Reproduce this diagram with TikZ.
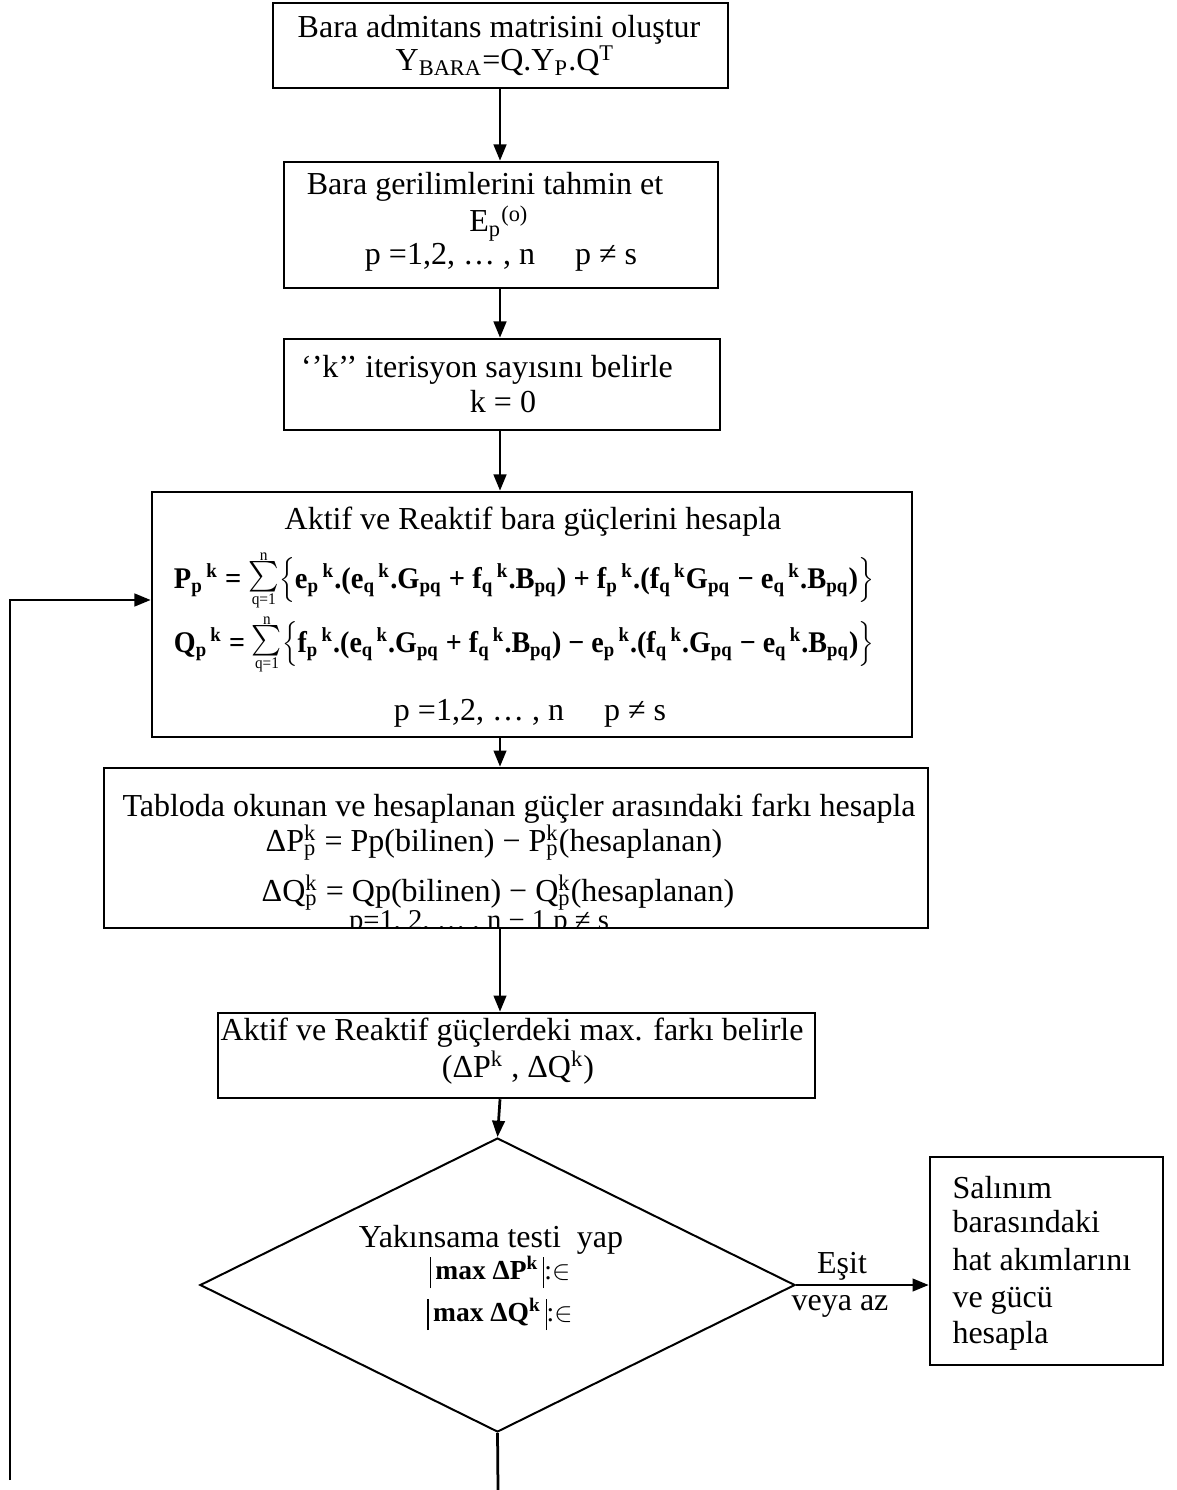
\documentclass[tikz,border=0pt]{standalone}
\usepackage{fontspec}
\setmainfont{Liberation Serif}
\usepackage{graphicx}
\usetikzlibrary{shapes.geometric,arrows.meta}

% X_y with a detached superscript k
\newcommand\ssk[2]{#1\textsubscript{#2}\textsuperscript{\,k}}
% base with stacked subscript and superscript
\newcommand\stk[3]{#1\rlap{\textsuperscript{#3}}\textsubscript{#2}}
% sum over q = 1 .. n, limits stacked tightly
\newcommand\qsum{$\vcenter{\offinterlineskip\halign{\hfil##\hfil\cr
  {\fontsize{6.5}{7}\selectfont\mdseries n}\cr\noalign{\kern0.6pt}
  \scalebox{1.22}{$\sum$}\cr\noalign{\kern0.8pt}
  {\fontsize{6.5}{7}\selectfont\mdseries q=1}\cr}}$}
% tall absolute-value bar
\newcommand\vbar{\raisebox{-3.6pt}{\rule{0.45pt}{12.5pt}}}

\begin{document}
\begin{tikzpicture}[x=0.4pt, y=-0.4pt,
  box/.style={draw, line width=1pt, inner sep=0pt},
  lbl/.style={inner sep=0pt, font=\fontsize{12.8}{15}\selectfont},
  arr/.style={line width=1.1pt, -{Triangle[length=6.5pt,width=5pt]}},
  wire/.style={line width=1.1pt}]
\useasboundingbox (0,0) rectangle (1177,1490);
\coordinate (ax) at (500,0);

% step 1: admittance matrix
\node[box, minimum width=182pt, minimum height=34pt] (b1) at (500.5,45.5) {};
\node[lbl, anchor=base] (b1a) at (499,38) {Bara admitans matrisini oluştur};
\node[lbl, anchor=base] (b1b) at (505,71) {Y\textsubscript{BARA}=Q.Y\textsubscript{P}.Q\textsuperscript{T}};

% step 2: initial bus voltages
\node[box, minimum width=173.6pt, minimum height=50.4pt] (b2) at (501,225) {};
\node[lbl, anchor=base] (b2a) at (485,195) {Bara gerilimlerini tahmin et};
\node[lbl, anchor=base] (b2b) at (499,232) {E\textsubscript{p}\textsuperscript{(o)}};
\node[lbl, anchor=base] (b2c) at (501,265) {p =1,2, … , n \quad p ≠ s};

% step 3: iteration counter
\node[box, minimum width=174.4pt, minimum height=36.4pt] (b3) at (502,384.5) {};
\node[lbl, anchor=base] (b3a) at (487,378) {‘’k’’ iterisyon sayısını belirle};
\node[lbl, anchor=base] (b3b) at (503,413) {k = 0};

% step 4: bus powers
\node[box, minimum width=304pt, minimum height=98pt] (b4) at (532,614.5) {};
\node[lbl, anchor=base] (b4a) at (533,530) {Aktif ve Reaktif bara güçlerini hesapla};
\node[lbl, anchor=base] (b4p) at (524,588) {\resizebox{280pt}{\height}{\fontsize{12}{14}\selectfont\bfseries
  \ssk{P}{p} = \qsum$\Big\{$\ssk{e}{p}.(\ssk{e}{q}.G\textsubscript{pq} + \ssk{f}{q}.B\textsubscript{pq}) + \ssk{f}{p}.(\ssk{f}{q}G\textsubscript{pq} − \ssk{e}{q}.B\textsubscript{pq})$\Big\}$}};
\node[lbl, anchor=base] (b4q) at (524,652) {\resizebox{280pt}{\height}{\fontsize{12}{14}\selectfont\bfseries
  \ssk{Q}{p} = \qsum$\Big\{$\ssk{f}{p}.(\ssk{e}{q}.G\textsubscript{pq} + \ssk{f}{q}.B\textsubscript{pq}) − \ssk{e}{p}.(\ssk{f}{q}.G\textsubscript{pq} − \ssk{e}{q}.B\textsubscript{pq})$\Big\}$}};
\node[lbl, anchor=base] (b4c) at (530,720) {p =1,2, … , n \quad p ≠ s};

% step 5: power mismatches (last line runs under the frame)
\begin{scope}
  \clip (104,768) rectangle (928,928);
  \node[lbl, anchor=base] (b5c) at (479,929) {\resizebox{104pt}{!}{p=1, 2, … , n − 1 p ≠ s}};
\end{scope}
\node[box, minimum width=329.6pt, minimum height=64pt] (b5) at (516,848) {};
\node[lbl, anchor=base] (b5a) at (519,816) {Tabloda okunan ve hesaplanan güçler arasındaki farkı hesapla};
\node[lbl, anchor=base] (b5p) at (494,851) {\stk{ΔP}{p}{k} = Pp(bilinen) − \stk{P}{p}{k}(hesaplanan)};
\node[lbl, anchor=base] (b5q) at (498,901) {\stk{ΔQ}{p}{k} = Qp(bilinen) − \stk{Q}{p}{k}(hesaplanan)};

% step 6: maximum mismatch
\node[box, minimum width=238.8pt, minimum height=34pt] (b6) at (516.5,1055.5) {};
\node[lbl, anchor=base] (b6a) at (512,1040) {Aktif ve Reaktif güçlerdeki max. farkı belirle};
\node[lbl, anchor=base] (b6b) at (518,1077) {(ΔP\textsuperscript{k} , ΔQ\textsuperscript{k})};

% convergence test
\node[draw, diamond, line width=0.8pt, inner sep=0pt, minimum width=238pt, minimum height=117.6pt] (dia) at (497.5,1285) {};
\node[lbl, anchor=base] (dia1) at (491,1247) {Yakınsama testi \ yap};
\node[lbl, anchor=base] (dia2) at (500,1279) {\fontsize{11}{13}\selectfont\vbar\,\textbf{max ΔP\textsuperscript{k}}\,\vbar:$\in$};
\node[lbl, anchor=base] (dia3) at (500,1321) {\fontsize{11}{13}\selectfont\vbar\,\textbf{max ΔQ\textsuperscript{k}}\,\vbar:$\in$};

% final step: slack bus
\node[box, minimum width=93.2pt, minimum height=83.2pt] (b7) at (1046.5,1261) {};
\node[lbl, anchor=base west] (b7a) at (952,1198) {Salınım};
\node[lbl, anchor=base west] (b7b) at (952,1232) {barasındaki};
\node[lbl, anchor=base west] (b7c) at (952,1270) {hat akımlarını};
\node[lbl, anchor=base west] (b7d) at (952,1307) {ve gücü};
\node[lbl, anchor=base west] (b7e) at (952,1343) {hesapla};

\node[lbl, anchor=base] (yes1) at (842,1273) {Eşit};
\node[lbl, anchor=base] (yes2) at (840,1310) {veya az};

% connectors
\draw[arr] (b1.south -| ax) -- (b2.north -| ax);
\draw[arr] (b2.south -| ax) -- (b3.north -| ax);
\draw[arr] (b3.south -| ax) -- (b4.north -| ax);
\draw[arr] (b4.south -| ax) -- (b5.north -| ax);
\draw[arr] (b5.south -| ax) -- (b6.north -| ax);
\draw[arr] (b6.south -| ax) -- (dia.north);
\draw[arr] (dia.east) -- (dia.east -| b7.west);
\coordinate (dend) at (498,1490);
\draw[wire] (dia.south) -- (dend);
\coordinate (lp) at (10,1480);
\draw[arr] (lp) |- ([yshift=5.8pt]b4.west);
\end{tikzpicture}
\end{document}
